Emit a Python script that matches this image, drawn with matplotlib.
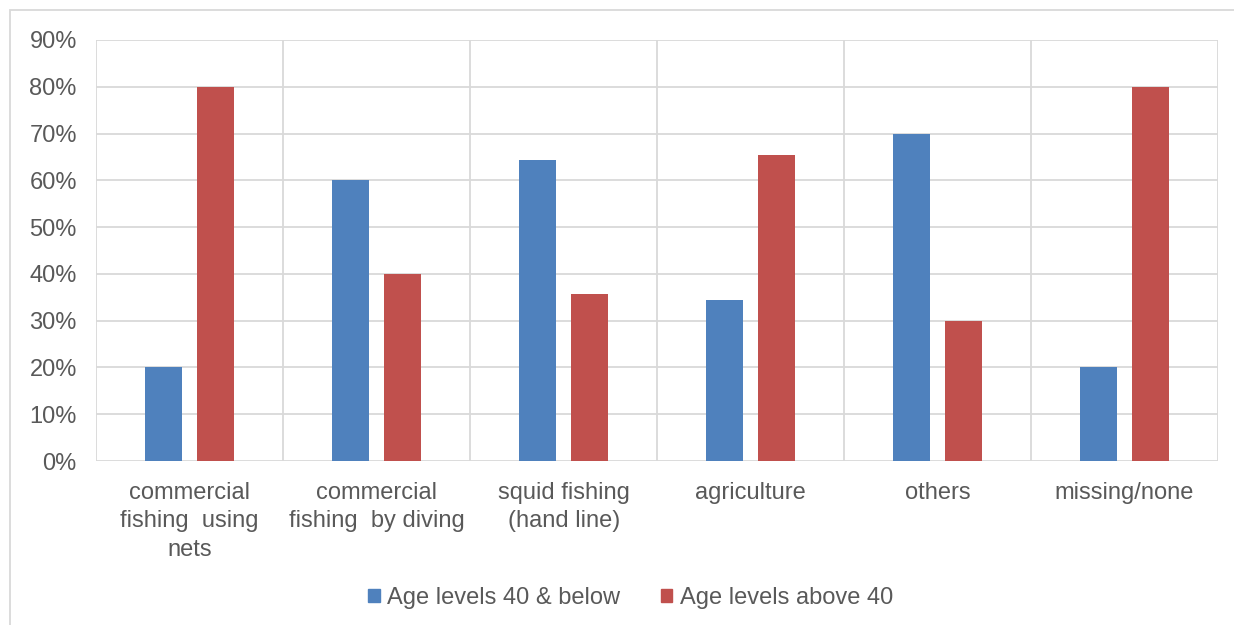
import numpy as np
import matplotlib.pyplot as plt
from matplotlib.patches import Rectangle, Patch

plt.rcParams['font.family'] = ['Liberation Sans', 'DejaVu Sans']

# Occupation categories and share of respondents per age group
categories = ['commercial\nfishing  using\nnets', 'commercial\nfishing  by diving',
              'squid fishing\n(hand line)', 'agriculture', 'others', 'missing/none']
age_40_below = [20.0, 60.0, 64.3, 34.5, 70.0, 20.0]
age_above_40 = [80.0, 40.0, 35.7, 65.5, 30.0, 80.0]
series_names = ['Age levels 40 & below', 'Age levels above 40']
yticks = np.arange(0, 91, 10)

blue = '#4f81bd'
red = '#c0504d'
grid_col = '#d9d9d9'
text_col = '#595959'

fig = plt.figure(figsize=(12.34, 6.25), dpi=100)
ax = fig.add_axes([0.078, 0.2624, 0.909, 0.6736])

x = np.arange(len(categories))
width = 0.198
offset = 0.139
ax.bar(x - offset, age_40_below, width, color=blue, zorder=3)
ax.bar(x + offset, age_above_40, width, color=red, zorder=3)

ax.set_xlim(-0.5, len(categories) - 0.5)
ax.set_ylim(0, 90)
ax.set_yticks(yticks)
ax.set_yticklabels([f'{v}%' for v in yticks])
ax.set_xticks(x)
ax.set_xticklabels(categories, linespacing=1.38)

# horizontal gridlines plus vertical separators between categories
for v in yticks:
    ax.axhline(v, color=grid_col, lw=1.3, zorder=1)
for b in np.arange(-0.5, len(categories), 1.0):
    ax.axvline(b, color=grid_col, lw=1.3, zorder=1)

for s in ax.spines.values():
    s.set_visible(False)
ax.tick_params(length=0, labelsize=17, colors=text_col)
ax.tick_params(axis='y', pad=14)
ax.tick_params(axis='x', pad=15)
for lbl in ax.get_xticklabels():
    lbl.set_verticalalignment('top')

handles = [Patch(color=blue), Patch(color=red)]
fig.legend(handles, series_names, loc='center', bbox_to_anchor=(0.511, 0.043),
           ncol=2, frameon=False, fontsize=17, labelcolor=text_col,
           handlelength=0.48, handleheight=0.48, handletextpad=0.3,
           columnspacing=1.75)

# chart area border
fig.patches.append(Rectangle((10 / 1234, -0.05), 1.1, 1 - 10 / 625 + 0.05,
                             transform=fig.transFigure, fill=False,
                             edgecolor=grid_col, lw=1.3))

fig.savefig('out.png', dpi=100)
